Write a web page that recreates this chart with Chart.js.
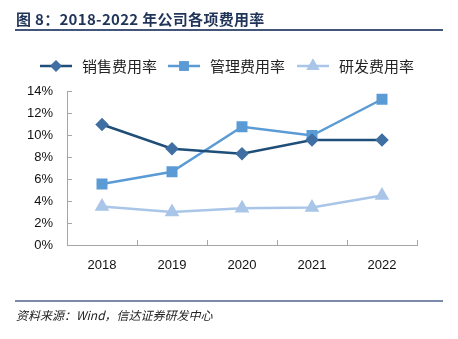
<!DOCTYPE html>
<html><head><meta charset="utf-8">
<script src="https://cdn.jsdelivr.net/npm/chart.js@4"></script>
<style>
html,body{margin:0;padding:0;background:#fff;}
#wrap{position:relative;width:458px;height:339px;overflow:hidden;}
#title{position:absolute;left:16px;top:8px;font:bold 15px "Noto Sans CJK SC","Liberation Sans",sans-serif;color:#1f3458;white-space:nowrap;letter-spacing:0.3px;}
#tline{position:absolute;left:15px;top:29px;width:428px;height:1.5px;background:#44557a;}
#fline{position:absolute;left:15px;top:300px;width:428px;height:1.5px;background:#7b8aa8;}
#foot{position:absolute;left:16px;top:306px;font:italic 12px "Noto Sans CJK SC","Liberation Sans",sans-serif;color:#222;white-space:nowrap;}
canvas{position:absolute;left:0;top:0;}
</style></head><body>
<div id="wrap">
<canvas id="c" width="458" height="339"></canvas>
<div id="title">图 8：2018-2022 年公司各项费用率</div>
<div id="tline"></div>
<div id="fline"></div>
<div id="foot">资料来源：Wind，信达证券研发中心</div>
</div>
<script>
const categories = ["2018","2019","2020","2021","2022"];
const seriesNames = ["销售费用率","管理费用率","研发费用率"];
const salesRate = [10.95, 8.75, 8.3, 9.55, 9.55];
const adminRate = [5.55, 6.65, 10.75, 9.95, 13.25];
const rdRate = [3.5, 3.0, 3.35, 3.4, 4.5];
const yTicks = [0,2,4,6,8,10,12,14];

const colors = ["#1f4e79","#5b9bd5","#a9c5e8"];
const markerColors = ["#3f6fa3","#5b9bd5","#a9c5e8"];
const styles = ["rectRot","rect","triangle"];
const radii = [5,6,6];

const axisColor = "#a6a6a6";

const innerTicks = {
  id:'innerTicks',
  afterDatasetsDraw(chart){
    const {ctx, scales:{x,y}, chartArea} = chart;
    ctx.save();
    ctx.strokeStyle = axisColor; ctx.lineWidth = 1;
    yTicks.forEach(v=>{
      const py = Math.round(y.getPixelForValue(v))+0.5;
      ctx.beginPath(); ctx.moveTo(chartArea.left, py); ctx.lineTo(chartArea.left+5, py); ctx.stroke();
    });
    for(let i=0;i<=categories.length;i++){
      const px = Math.round(x.getPixelForValue(i-0.5))+0.5;
      ctx.beginPath(); ctx.moveTo(px, chartArea.bottom); ctx.lineTo(px, chartArea.bottom-5); ctx.stroke();
    }
    ctx.restore();
  }
};

const customLegend = {
  id:'customLegend',
  afterDraw(chart){
    const ctx = chart.ctx;
    const xs = [40,168,297];
    const yc = 66;
    ctx.save();
    chart.data.datasets.forEach((ds,i)=>{
      const x0 = xs[i];
      ctx.strokeStyle = colors[i]; ctx.lineWidth = 2.5;
      ctx.beginPath(); ctx.moveTo(x0, yc); ctx.lineTo(x0+32, yc); ctx.stroke();
      Chart.helpers.drawPoint(ctx, {pointStyle: styles[i], radius: radii[i]-1, borderWidth:1}, x0+16, yc);
      ctx.fillStyle = markerColors[i];
      ctx.strokeStyle = markerColors[i];
      ctx.beginPath();
      Chart.helpers.drawPoint(ctx, {pointStyle: styles[i], radius: radii[i]-1, borderWidth:1}, x0+16, yc);
      ctx.fillStyle = "#222";
      ctx.font = '15px "Noto Sans CJK SC", sans-serif';
      ctx.textBaseline = 'middle';
      ctx.fillText(ds.label, x0+42, yc);
    });
    ctx.restore();
  }
};

const datasets = [salesRate, adminRate, rdRate].map((d,i)=>({
  label: seriesNames[i],
  data: d,
  borderColor: colors[i],
  backgroundColor: markerColors[i],
  pointBackgroundColor: markerColors[i],
  pointBorderColor: markerColors[i],
  pointStyle: styles[i],
  pointRadius: radii[i],
  pointHoverRadius: radii[i],
  borderWidth: 2.5,
  tension: 0,
  fill: false
}));

new Chart(document.getElementById('c'), {
  type:'line',
  data:{labels:categories, datasets},
  plugins:[innerTicks, customLegend],
  options:{
    responsive:false,
    animation:false,
    events:[],
    layout:{padding:{top:91, right:41, left:0, bottom:0}},
    plugins:{legend:{display:false}, tooltip:{enabled:false}},
    scales:{
      x:{
        offset:true,
        grid:{display:false, drawTicks:false},
        border:{display:true, color:axisColor, width:1},
        ticks:{color:"#111", font:{family:'"Liberation Sans", sans-serif', size:13}, padding:13},
        afterFit(s){ s.height = 94; }
      },
      y:{
        min:0, max:14,
        grid:{display:false, drawTicks:false},
        border:{display:true, color:axisColor, width:1},
        afterBuildTicks(s){ s.ticks = yTicks.map(v=>({value:v})); },
        ticks:{color:"#111", font:{family:'"Liberation Sans", sans-serif', size:13}, padding:14,
          callback:v=>v+'%'},
        afterFit(s){ s.width = 67; }
      }
    }
  }
});
</script>
</body></html>
